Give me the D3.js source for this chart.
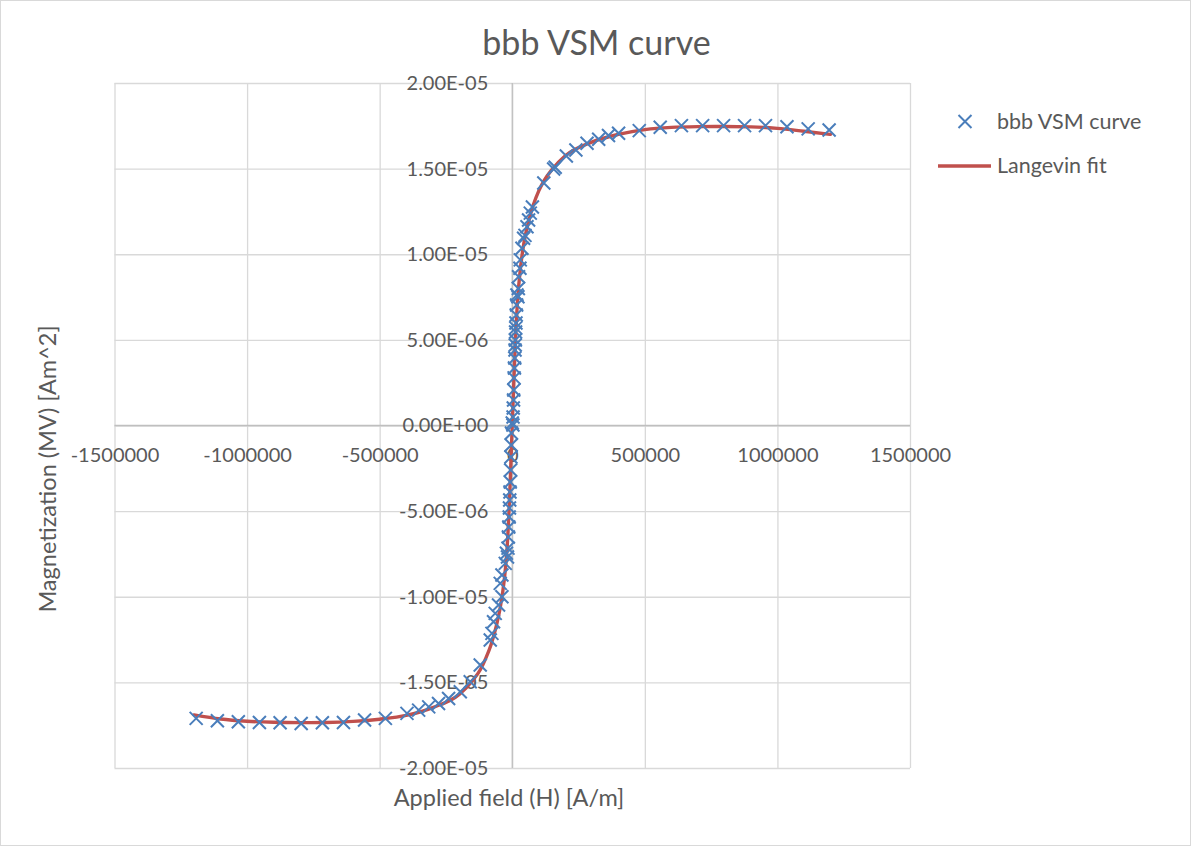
<!DOCTYPE html>
<html>
<head>
<meta charset="utf-8">
<script src="https://cdn.jsdelivr.net/npm/d3@7"></script>
<style>
  html, body { margin: 0; padding: 0; background: #fff; }
  svg { display: block; font-family: Lato, "Open Sans", sans-serif; }
</style>
</head>
<body>
<svg id="chart" width="1191" height="846"></svg>
<script>
// Measured VSM sweep: applied field H [A/m] and moment M [Am^2]
const fieldH = [
  1195000, 1116000, 1036000, 955000, 876000, 797000, 718000, 638000, 558000, 479000,
  401000, 363000, 326000, 282000, 240000, 204000, 162000, 156000, 119000,
  76000, 68000, 61600, 55500, 48000, 42800, 36600, 30200, 29000, 23800, 23000, 21500,
  17700, 16500, 15000, 14000, 13000, 12500, 11800, 11300, 10500, 9500, 8300, 7000, 5800, 5000, 3800, 3000, 2500,
  0, -3000, -4000, -5000, -6000, -7500, -8500, -9500, -10500, -11500, -13000, -14500, -16000, -18000,
  -22000, -26400, -38900, -45300, -38900, -51700, -64200, -70600, -76600, -83000, -120800, -158500,
  -196000, -240000, -278000, -315000, -353000, -397000, -478500, -557000, -636500, -716000,
  -796000, -875500, -953500, -1033000, -1112000, -1192000
];
const momentM = [
  1.726e-5, 1.732e-5, 1.745e-5, 1.751e-5, 1.751e-5, 1.751e-5, 1.751e-5, 1.751e-5, 1.742e-5, 1.722e-5,
  1.707e-5, 1.693e-5, 1.672e-5, 1.648e-5, 1.609e-5, 1.574e-5, 1.508e-5, 1.498e-5, 1.416e-5,
  1.276e-5, 1.240e-5, 1.200e-5, 1.161e-5, 1.110e-5, 1.093e-5, 1.035e-5, 0.967e-5, 0.918e-5, 0.869e-5, 0.800e-5, 0.752e-5,
  0.762e-5, 0.704e-5, 0.645e-5, 0.599e-5, 0.570e-5, 0.546e-5, 0.499e-5, 0.470e-5, 0.441e-5, 0.394e-5, 0.336e-5, 0.278e-5, 0.207e-5, 0.149e-5, 0.102e-5, 0.050e-5, 0.003e-5,
  0.015e-5, -0.044e-5, -0.114e-5, -0.184e-5, -0.260e-5, -0.330e-5, -0.388e-5, -0.435e-5, -0.482e-5, -0.534e-5, -0.593e-5, -0.651e-5, -0.716e-5, -0.768e-5,
  -0.746e-5, -0.805e-5, -0.873e-5, -0.922e-5, -1.000e-5, -1.048e-5, -1.097e-5, -1.146e-5, -1.214e-5, -1.253e-5, -1.399e-5, -1.496e-5,
  -1.555e-5, -1.594e-5, -1.623e-5, -1.643e-5, -1.662e-5, -1.681e-5, -1.710e-5, -1.720e-5, -1.734e-5, -1.736e-5,
  -1.740e-5, -1.736e-5, -1.734e-5, -1.730e-5, -1.724e-5, -1.710e-5
];

// Langevin fit curve (H [A/m], M [Am^2])
const fitH = [
  -1200000, -1100000, -1000000, -900000, -800000, -700000, -600000, -500000, -400000, -300000,
  -200000, -150000, -120000, -100000, -80000, -60000, -45000, -30000, -20000, -10000, 0,
  10000, 20000, 30000, 45000, 60000, 80000, 100000, 120000, 150000, 200000,
  300000, 400000, 500000, 600000, 700000, 800000, 900000, 1000000, 1100000, 1200000
];
const fitM = [
  -1.690e-5, -1.714e-5, -1.727e-5, -1.733e-5, -1.735e-5, -1.734e-5, -1.728e-5, -1.715e-5, -1.693e-5, -1.647e-5,
  -1.570e-5, -1.490e-5, -1.425e-5, -1.360e-5, -1.280e-5, -1.170e-5, -1.060e-5, -0.900e-5, -0.730e-5, -0.420e-5, 0,
  0.420e-5, 0.730e-5, 0.905e-5, 1.075e-5, 1.180e-5, 1.290e-5, 1.370e-5, 1.430e-5, 1.495e-5, 1.575e-5,
  1.655e-5, 1.700e-5, 1.728e-5, 1.741e-5, 1.745e-5, 1.746e-5, 1.744e-5, 1.735e-5, 1.718e-5, 1.700e-5
];

const xTicks = [-1500000, -1000000, -500000, 0, 500000, 1000000, 1500000];
const yTicks = [-2e-5, -1.5e-5, -1e-5, -5e-6, 0, 5e-6, 1e-5, 1.5e-5, 2e-5];

const titleText = "bbb VSM curve";
const xTitle = "Applied field (H) [A/m]";
const yTitle = "Magnetization (MV) [Am^2]";
const seriesNames = ["bbb VSM curve", "Langevin fit"];

const W = 1191, H = 846;
const plot = { left: 114.5, right: 910, top: 83, bottom: 768 };
const textColor = "#595959";
const gridColor = "#D9D9D9";
const markerColor = "#4A7EBB";
const lineColor = "#C0504D";

const svg = d3.select("#chart");

svg.append("rect").attr("x", 0.5).attr("y", 0.5).attr("width", W - 1).attr("height", H - 1)
  .attr("fill", "#fff").attr("stroke", "#D9D9D9").attr("stroke-width", 1);

const x = d3.scaleLinear().domain([-1500000, 1500000]).range([plot.left, plot.right]);
const y = d3.scaleLinear().domain([-2e-5, 2e-5]).range([plot.bottom, plot.top]);

// Excel-style scientific label, e.g. 2.00E-05
function sci(v) {
  const [m, e] = v.toExponential(2).split("e");
  const n = Math.abs(parseInt(e, 10));
  const sign = e[0] === "-" ? "-" : "+";
  return m + "E" + sign + String(n).padStart(2, "0");
}

// gridlines
const gx = svg.append("g").attr("transform", `translate(0,${plot.bottom})`)
  .call(d3.axisBottom(x).tickValues(xTicks).tickSize(-(plot.bottom - plot.top)).tickFormat(""));
gx.select(".domain").remove();
gx.selectAll("line").attr("stroke", gridColor).attr("stroke-width", 1.3);

const gy = svg.append("g").attr("transform", `translate(${plot.left},0)`)
  .call(d3.axisLeft(y).tickValues(yTicks).tickSize(-(plot.right - plot.left)).tickFormat(""));
gy.select(".domain").remove();
gy.selectAll("line").attr("stroke", gridColor).attr("stroke-width", 1.3);

// zero axes
svg.append("line").attr("x1", plot.left).attr("x2", plot.right).attr("y1", y(0)).attr("y2", y(0))
  .attr("stroke", "#BFBFBF").attr("stroke-width", 1.3);
svg.append("line").attr("x1", x(0)).attr("x2", x(0)).attr("y1", plot.top).attr("y2", plot.bottom)
  .attr("stroke", "#BFBFBF").attr("stroke-width", 1.3);

// tick labels along the zero axes
const ax = svg.append("g").attr("transform", `translate(0,${y(0)})`)
  .call(d3.axisBottom(x).tickValues(xTicks).tickSize(0).tickPadding(22).tickFormat(d => String(d)));
ax.select(".domain").remove();
ax.selectAll("text").attr("fill", textColor).style("font-size", "20px").style("font-family", "Lato, sans-serif");

const ay = svg.append("g").attr("transform", `translate(${x(0)},0)`)
  .call(d3.axisLeft(y).tickValues(yTicks).tickSize(0).tickPadding(24).tickFormat(sci));
ay.select(".domain").remove();
ay.selectAll("text").attr("fill", textColor).style("font-size", "20px").style("font-family", "Lato, sans-serif");

// fit line
const fitData = fitH.map((h, i) => [h, fitM[i]]);
svg.append("path").datum(fitData)
  .attr("fill", "none").attr("stroke", lineColor).attr("stroke-width", 3.4)
  .attr("stroke-linejoin", "round").attr("stroke-linecap", "round")
  .attr("d", d3.line().x(d => x(d[0])).y(d => y(d[1])).curve(d3.curveMonotoneX));

// measured points as crosses
const cross = "M-6.5,-6.5L6.5,6.5M6.5,-6.5L-6.5,6.5";
const pts = fieldH.map((h, i) => [h, momentM[i]]);
svg.append("g").selectAll("path").data(pts).join("path")
  .attr("transform", d => `translate(${x(d[0])},${y(d[1])})`)
  .attr("d", cross).attr("fill", "none").attr("stroke", markerColor).attr("stroke-width", 2);

// title
svg.append("text").attr("x", 596.5).attr("y", 55).attr("text-anchor", "middle")
  .attr("fill", textColor).style("font-size", "34px").text(titleText);

// axis titles
svg.append("text").attr("x", 509).attr("y", 806).attr("text-anchor", "middle")
  .attr("fill", textColor).style("font-size", "23.5px").text(xTitle);
svg.append("text").attr("transform", "translate(56,469) rotate(-90)").attr("text-anchor", "middle")
  .attr("fill", textColor).style("font-size", "23.5px").text(yTitle);

// legend
const lg = svg.append("g");
lg.append("path").attr("transform", "translate(965,121.5)").attr("d", cross)
  .attr("fill", "none").attr("stroke", markerColor).attr("stroke-width", 2);
lg.append("text").attr("x", 997).attr("y", 128.5).attr("fill", textColor)
  .style("font-size", "21.5px").text(seriesNames[0]);
lg.append("line").attr("x1", 938).attr("x2", 991).attr("y1", 166).attr("y2", 166)
  .attr("stroke", lineColor).attr("stroke-width", 3.4);
lg.append("text").attr("x", 997).attr("y", 173).attr("fill", textColor)
  .style("font-size", "21.5px").text(seriesNames[1]);
</script>
</body>
</html>
